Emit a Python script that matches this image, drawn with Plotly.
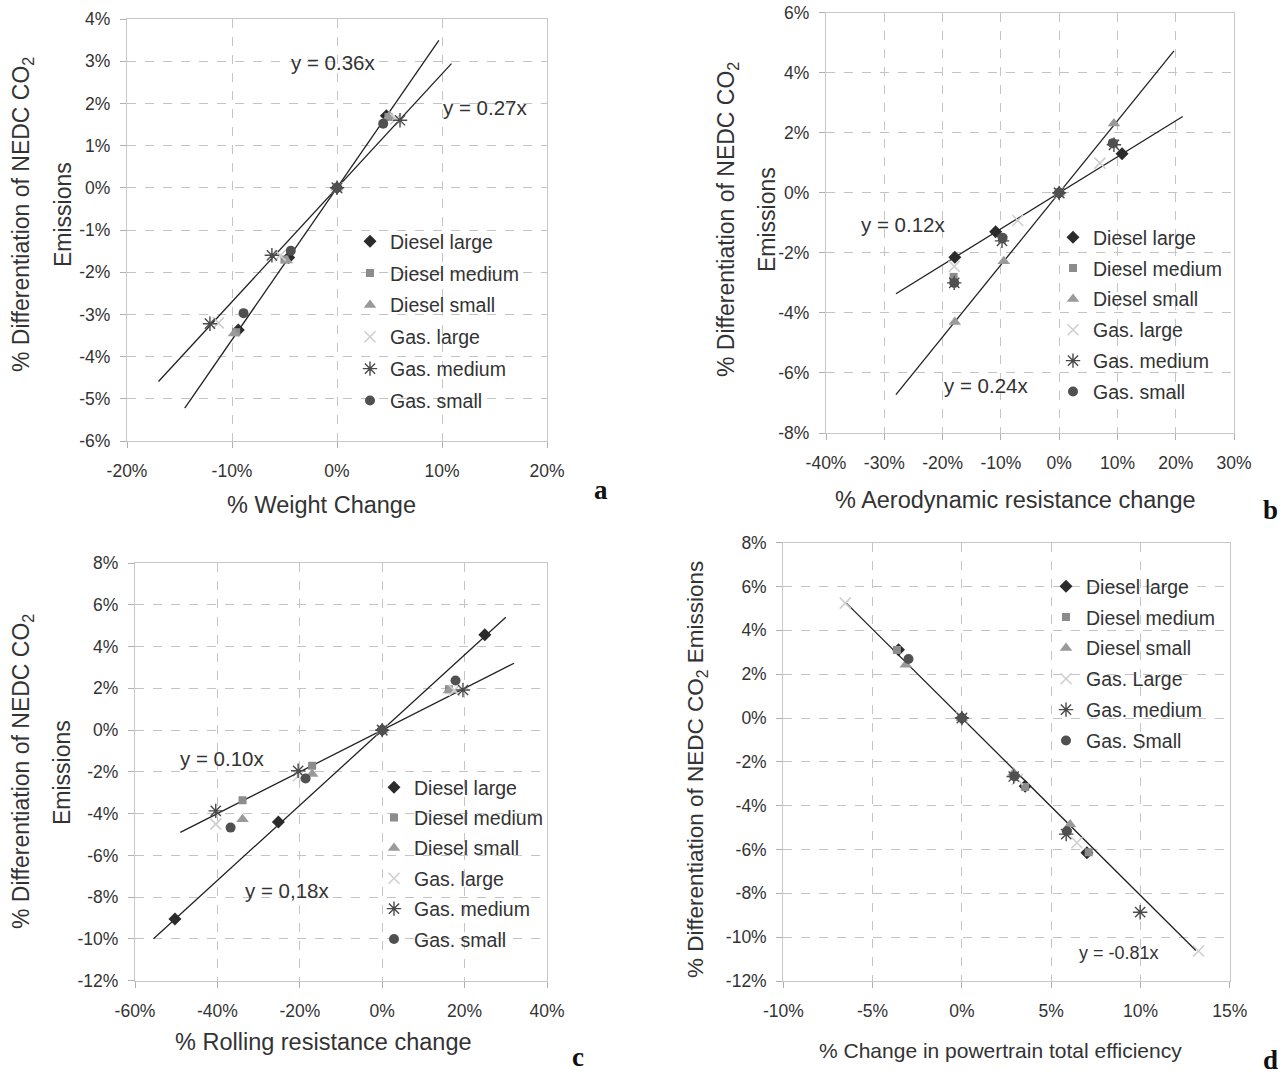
import plotly.graph_objects as go

W, H = 1286, 1076

SERIES_A = ["Diesel large", "Diesel medium", "Diesel small", "Gas. large", "Gas. medium", "Gas. small"]
SERIES_D = ["Diesel large", "Diesel medium", "Diesel small", "Gas. Large", "Gas. medium", "Gas. Small"]

# ---- panel a: weight change ----
A_X = [[-9.4, -4.6, 0, 4.7], [-9.6, -5.0, 0, 4.9], [-9.8, -4.8, 0, 5.0],
       [-11.3, -5.4, 0, 5.6], [-12.1, -6.2, 0, 6.0], [-8.9, -4.4, 0, 4.4]]
A_Y = [[-3.37, -1.65, 0, 1.71], [-3.42, -1.70, 0, 1.68], [-3.45, -1.72, 0, 1.70],
       [-3.20, -1.60, 0, 1.63], [-3.22, -1.60, 0, 1.60], [-2.97, -1.49, 0, 1.52]]
A_SLOPES = [0.36, 0.27]
A_LINE_X = [[-14.5, 9.7], [-17.0, 10.9]]
A_XTICKS = [-20, -10, 0, 10, 20]
A_YTICKS = [4, 3, 2, 1, 0, -1, -2, -3, -4, -5, -6]

# ---- panel b: aerodynamic resistance change ----
B_X = [[-17.9, -10.9, 0, 10.8], [-18.1, -9.8, 0, 9.3], [-17.9, -9.5, 0, 9.4],
       [-18.0, -7.1, 0, 7.0], [-18.0, -9.8, 0, 9.4], [-18.0, -9.7, 0, 9.2]]
B_Y = [[-2.15, -1.30, 0, 1.30], [-2.80, -1.55, 0, 1.65], [-4.30, -2.28, 0, 2.31],
       [-2.45, -0.92, 0, 0.99], [-3.00, -1.60, 0, 1.60], [-3.00, -1.50, 0, 1.65]]
B_SLOPES = [0.12, 0.24]
B_LINE_X = [[-28.0, 21.2], [-28.0, 19.7]]
B_XTICKS = [-40, -30, -20, -10, 0, 10, 20, 30]
B_YTICKS = [6, 4, 2, 0, -2, -4, -6, -8]

# ---- panel c: rolling resistance change ----
C_X = [[-50.3, -25.2, 0, 24.9], [-33.9, -17.0, 0, 16.2], [-33.9, -17.0, 0, 16.2],
       [-40.4, -20.4, 0, 17.5], [-40.4, -20.4, 0, 19.6], [-36.8, -18.6, 0, 17.8]]
C_Y = [[-9.04, -4.40, 0, 4.56], [-3.36, -1.71, 0, 1.95], [-4.27, -2.10, 0, 1.90],
       [-4.50, -2.20, 0, 1.90], [-3.87, -1.95, 0, 1.92], [-4.67, -2.32, 0, 2.37]]
C_SLOPES = [0.10, 0.18]
C_LINE_X = [[-49.0, 32.0], [-55.5, 30.0]]
C_XTICKS = [-60, -40, -20, 0, 20, 40]
C_YTICKS = [8, 6, 4, 2, 0, -2, -4, -6, -8, -10, -12]

# ---- panel d: powertrain total efficiency ----
D_X = [[-3.55, 0, 3.54, 7.0], [-3.64, 0, 3.54, 7.1], [-3.14, 0, 2.9, 6.06],
       [-6.53, 0, 3.1, 6.44, 13.25], [0, 2.9, 5.84, 9.98], [-2.99, 0, 2.93, 5.88]]
D_Y = [[3.11, 0, -3.11, -6.15], [3.10, 0, -3.15, -6.12], [2.43, 0, -2.50, -4.86],
       [5.24, 0, -2.80, -5.69, -10.63], [0, -2.67, -5.30, -8.86], [2.69, 0, -2.66, -5.17]]
D_SLOPES = [-0.81]
D_LINE_X = [[-6.5, 13.1]]
D_XTICKS = [-10, -5, 0, 5, 10, 15]
D_YTICKS = [8, 6, 4, 2, 0, -2, -4, -6, -8, -10, -12]

# ---- styling ----
FONT = "Liberation Sans, Arial, sans-serif"
TXT = "#333333"
GRID = "#c4c4c4"
STYLES = [
    dict(symbol="diamond", size=10, color="#2b2b2b"),
    dict(symbol="square", size=8, color="#8c8c8c"),
    dict(symbol="triangle-up", size=11, color="#9a9a9a"),
    dict(symbol="x-thin", size=11, color="#cfcfcf", line=dict(width=1.6, color="#cfcfcf")),
    dict(symbol="asterisk-open", size=12, color="#4a4a4a", line=dict(width=1.4, color="#4a4a4a")),
    dict(symbol="circle", size=10, color="#505050"),
]

def px(x):
    return x / W

def py(y):
    return 1 - y / H

panels = [
    dict(xs=A_X, ys=A_Y, names=SERIES_A, slopes=A_SLOPES, lx=A_LINE_X,
         xt=A_XTICKS, yt=A_YTICKS, xr=[-20, 20], yr=[-6, 4],
         dom_x=[127, 547], dom_y=[19, 441], legend=dict(x=350, y=222, gap=3.5)),
    dict(xs=B_X, ys=B_Y, names=SERIES_A, slopes=B_SLOPES, lx=B_LINE_X,
         xt=B_XTICKS, yt=B_YTICKS, xr=[-40, 30], yr=[-8, 6],
         dom_x=[826, 1234], dom_y=[12.7, 433], legend=dict(x=1053, y=218, gap=2.5)),
    dict(xs=C_X, ys=C_Y, names=SERIES_A, slopes=C_SLOPES, lx=C_LINE_X,
         xt=C_XTICKS, yt=C_YTICKS, xr=[-60, 40], yr=[-12, 8],
         dom_x=[135, 547], dom_y=[563, 980.7], legend=dict(x=374, y=768, gap=2)),
    dict(xs=D_X, ys=D_Y, names=SERIES_D, slopes=D_SLOPES, lx=D_LINE_X,
         xt=D_XTICKS, yt=D_YTICKS, xr=[-10, 15], yr=[-12, 8],
         dom_x=[783.3, 1229.8], dom_y=[542.7, 981], legend=dict(x=1046, y=567, gap=2.5)),
]

fig = go.Figure()
layout = dict(
    width=W, height=H, margin=dict(l=0, r=0, t=0, b=0, pad=0, autoexpand=False),
    paper_bgcolor="white", plot_bgcolor="white",
    font=dict(family=FONT, color=TXT),
    showlegend=True,
)

for i, p in enumerate(panels):
    k = "" if i == 0 else str(i + 1)
    xa, ya = "x" + k, "y" + k
    leg = "legend" + k
    # trend lines
    for s, lx in zip(p["slopes"], p["lx"]):
        fig.add_trace(go.Scatter(
            x=lx, y=[s * v for v in lx], mode="lines",
            line=dict(color="#222222", width=1.3),
            showlegend=False, hoverinfo="skip", xaxis=xa, yaxis=ya))
    # series
    for j, (name, xv, yv) in enumerate(zip(p["names"], p["xs"], p["ys"])):
        fig.add_trace(go.Scatter(
            x=xv, y=yv, mode="markers", name=name,
            marker=STYLES[j], legend=leg, legendgroup=f"p{i}s{j}",
            xaxis=xa, yaxis=ya))
    axis_common = dict(
        showgrid=True, gridcolor=GRID, griddash="dash", gridwidth=1,
        zeroline=False, showline=True, linecolor="#c8c8c8", linewidth=1.2,
        mirror=True, ticks="outside", ticklen=6, tickcolor="#b0b0b0",
        tickfont=dict(family=FONT, size=17.5, color=TXT), automargin=False,
    )
    layout["xaxis" + k] = dict(
        axis_common, domain=[px(p["dom_x"][0]), px(p["dom_x"][1])],
        range=p["xr"], anchor=ya, tickmode="array", tickvals=p["xt"],
        ticktext=[f"{v}%" for v in p["xt"]], ticklabelstandoff=8)
    layout["yaxis" + k] = dict(
        axis_common, domain=[py(p["dom_y"][1]), py(p["dom_y"][0])],
        range=p["yr"], anchor=xa, tickmode="array", tickvals=p["yt"],
        ticktext=[f"{v}%" for v in p["yt"]], ticklabelstandoff=6)
    lg = p["legend"]
    layout[leg] = dict(
        x=px(lg["x"]), y=py(lg["y"]), xanchor="left", yanchor="top",
        bgcolor="rgba(255,255,255,0)", borderwidth=0,
        font=dict(family=FONT, size=19.5, color=TXT),
        tracegroupgap=lg["gap"], itemwidth=30, orientation="v")

annotations = []

def ann(text, x, y, size, angle=0, font=FONT, color=TXT, bold=False):
    annotations.append(dict(
        text=f"<b>{text}</b>" if bold else text,
        x=px(x), y=py(y), xref="paper", yref="paper",
        xanchor="center", yanchor="middle", showarrow=False, textangle=angle,
        font=dict(family=font, size=size, color=color)))

# axis titles
YT1 = "% Differentiation of NEDC CO<sub>2</sub>"
ann(YT1, 22, 215, 23, -90)
ann("Emissions", 63, 215, 23, -90)
ann(YT1, 727, 220, 23, -90)
ann("Emissions", 767, 220, 23, -90)
ann(YT1, 22, 772, 23, -90)
ann("Emissions", 62, 772, 23, -90)
ann("% Differentiation of NEDC CO<sub>2</sub> Emissions", 697, 770, 22.5, -90)
ann("% Weight Change", 321, 505, 23.5)
ann("% Aerodynamic resistance change", 1015, 500, 23.5)
ann("% Rolling resistance change", 323, 1042, 23.5)
ann("% Change in powertrain total efficiency", 1000, 1050, 21)

# equation labels
ann("y = 0.36x", 333, 63, 20.5)
ann("y = 0.27x", 485, 108, 20.5)
ann("y = 0.12x", 904, 225, 20.5)
ann("y = 0.24x", 986, 385, 20.5)
ann("y = 0.10x", 222, 758, 20.5)
ann("y = 0,18x", 287, 890, 20.5)
ann("y = -0.81x", 1119, 953, 18)

# panel letters
SERIF = "Liberation Serif, Times New Roman, serif"
ann("a", 601, 490, 27, font=SERIF, color="#111111", bold=True)
ann("b", 1270, 510, 27, font=SERIF, color="#111111", bold=True)
ann("c", 578, 1057, 27, font=SERIF, color="#111111", bold=True)
ann("d", 1270, 1060, 27, font=SERIF, color="#111111", bold=True)

layout["annotations"] = annotations
fig.update_layout(**layout)
# remove the default 8 px page margin so the figure fills the window exactly
fig.write_html("out.html",
               config={"displayModeBar": False},
               post_script="document.body.style.margin='0px';document.body.style.overflow='hidden';")
